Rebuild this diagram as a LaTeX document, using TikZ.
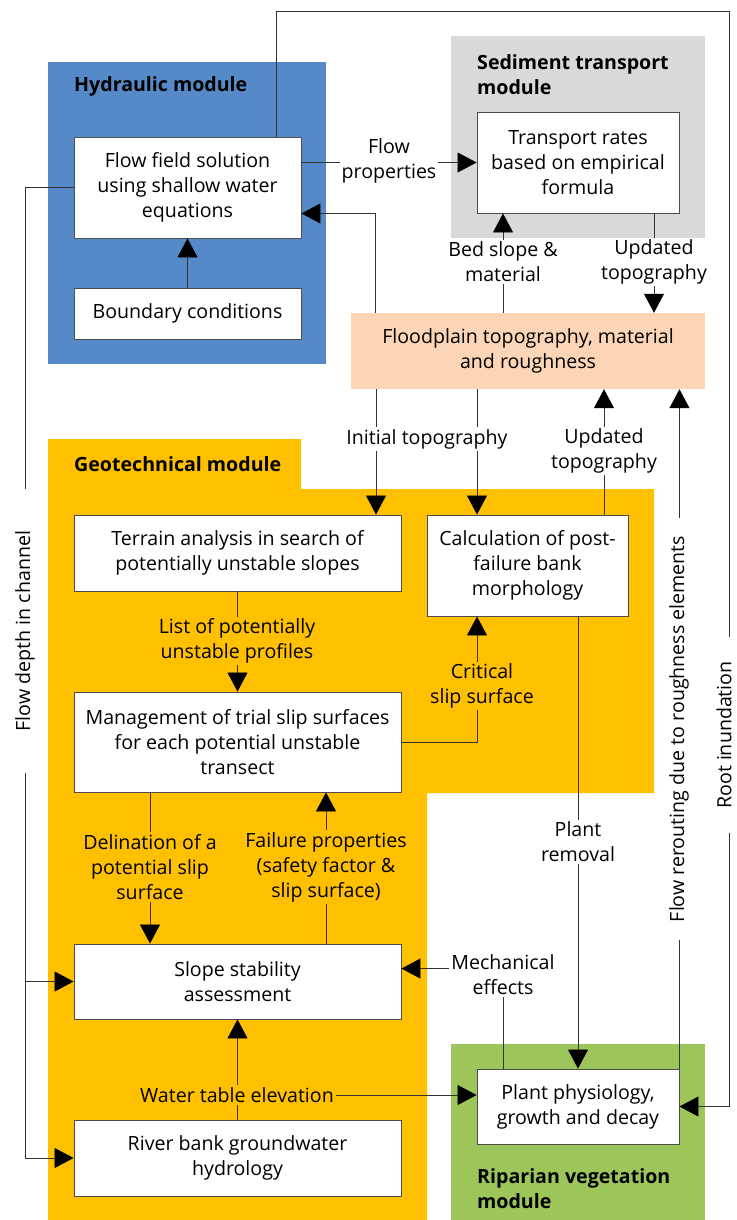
\documentclass[tikz,border=0pt]{standalone}
\usepackage{fontspec}
\setmainfont{Open Sans}
\usetikzlibrary{arrows.meta}

\definecolor{hydblue}{HTML}{5689C8}
\definecolor{sedgrey}{HTML}{D9D9D9}
\definecolor{topopeach}{HTML}{FBD5B5}
\definecolor{geoyellow}{HTML}{FFC000}
\definecolor{ripgreen}{HTML}{9DC65A}

\newcommand\diagfont{\fontsize{19.6}{25}\selectfont}

\tikzset{
	box/.style={draw=black!70, fill=white, line width=0.9pt, align=center, inner sep=0pt},
	lbl/.style={align=center, inner sep=2pt},
	modtitle/.style={font=\diagfont\bfseries, align=left, inner sep=0pt, anchor=west},
	conn/.style={draw=black!80, line width=0.8pt},
	arr/.style={conn, -{Triangle[length=19pt,width=20pt,color=black]}}
}

\begin{document}
\begin{tikzpicture}[x=1pt, y=-1pt, font=\diagfont]
		\useasboundingbox (0,0) rectangle (736,1220);
		
		\fill[hydblue] (48,62) rectangle (326,364);
		\fill[sedgrey] (451,36) rectangle (705,238);
		\fill[geoyellow] (48,439) -- (301,439) -- (301,489) -- (654,489) -- (654,793) -- (427,793) -- (427,1220) -- (48,1220) -- cycle;
		\fill[ripgreen] (451,1044) rectangle (705,1220);
		
		\node[modtitle] (hydtitle) at (74,86) {Hydraulic module};
		\node[modtitle] (sedtitle) at (477,75) {Sediment transport\\module};
		\node[modtitle] (geotitle) at (74,464) {Geotechnical module};
		\node[modtitle] (riptitle) at (477,1189) {Riparian vegetation\\module};
		
		\node[box, minimum width=227pt, minimum height=101pt] (flow) at (187.5,187.5) {Flow field solution\\using shallow water\\equations};
		\node[box, minimum width=227pt, minimum height=51pt] (bound) at (187.5,313.5) {Boundary conditions};
		\node[box, minimum width=202pt, minimum height=101pt] (transp) at (578,162.5) {Transport rates\\based on empirical\\formula};
		\node[fill=topopeach, align=center, inner sep=0pt, minimum width=354pt, minimum height=76pt] (topo) at (528,351) {Floodplain topography, material\\and roughness};
		\node[box, minimum width=327pt, minimum height=76pt] (terrain) at (237.5,553) {Terrain analysis in search of\\potentially unstable slopes};
		\node[box, minimum width=201pt, minimum height=101pt] (postfail) at (527.5,565.5) {Calculation of post-\\failure bank\\morphology};
		\node[box, minimum width=327pt, minimum height=100pt] (trial) at (237.5,742) {Management of trial slip surfaces\\for each potential unstable\\transect};
		\node[box, minimum width=327pt, minimum height=75pt] (stab) at (237.5,981.5) {Slope stability\\assessment};
		\node[box, minimum width=327pt, minimum height=76pt] (ground) at (237.5,1158) {River bank groundwater\\hydrology};
		\node[box, minimum width=202pt, minimum height=75pt] (plant) at (578,1106.5) {Plant physiology,\\growth and decay};
		
		\coordinate (depthx) at (25,0);
		\coordinate (roottop) at (729,11);
		\coordinate (bedx) at (503,0);
		\coordinate (updx) at (654,0);
		\coordinate (initx) at (376,0);
		\coordinate (postx) at (477,0);
		\coordinate (upd2x) at (604,0);
		\coordinate (delx) at (150,0);
		\coordinate (failx) at (326,0);
		
		\draw[arr] (bound.north) -- (flow.south);
		\draw[arr] (transp.west -| flow.east) -- (transp.west);
		\draw[arr] ([xshift=25pt]topo.north west) |- ([yshift=25pt]flow.south east);
		\draw[arr] (bedx |- topo.north) -- (bedx |- transp.south);
		\draw[arr] (updx |- transp.south) -- (updx |- topo.north);
		\draw[arr] ([xshift=-25pt]flow.north east) |- (roottop) |- (plant.east);
		\draw[arr] (flow.west) -- (flow.west -| depthx) -- (ground.west -| depthx) -- (ground.west);
		\draw[arr] (stab.west -| depthx) -- (stab.west);
		\draw[arr] (initx |- topo.south) -- (initx |- terrain.north);
		\draw[arr] (postx |- topo.south) -- (postx |- postfail.north);
		\draw[arr] (upd2x |- postfail.north) -- (upd2x |- topo.south);
		\draw[arr] (plant.north east) -- (plant.north east |- topo.south);
		\draw[arr] (terrain.south) -- (trial.north);
		\draw[arr] (trial.east) -| (postx |- postfail.south);
		\draw[arr] (delx |- trial.south) -- (delx |- stab.north);
		\draw[arr] (failx |- stab.north) -- (failx |- trial.south);
		\draw[arr] (ground.north) -- (stab.south);
		\draw[arr] (bedx |- plant.north) |- ([yshift=-25pt]stab.north east);
		\draw[arr] (plant.north |- postfail.south) -- (plant.north);
		
		\node[lbl, fill=white] (flowprop) at (389,161) {Flow\\properties};
		\node[lbl, fill=white] (bedslope) at (503,262) {Bed slope \&\\material};
		\node[lbl, fill=white] (updtopo) at (654,262) {Updated\\topography};
		\node[lbl, fill=white] (inittopo) at (427,439) {Initial topography};
		\node[lbl, fill=white] (updtopo2) at (604,451) {Updated\\topography};
		\node[lbl, fill=geoyellow] (listprof) at (237,641) {List of potentially\\unstable profiles};
		\node[lbl, fill=geoyellow] (critslip) at (482,686) {Critical\\slip surface};
		\node[lbl, fill=geoyellow] (delin) at (150,867) {Delination of a\\potential slip\\surface};
		\node[lbl, fill=geoyellow] (failprop) at (326,867) {Failure properties\\(safety factor \&\\slip surface)};
		\node[lbl, fill=geoyellow] (watertab) at (237,1095) {Water table elevation};
		\node[lbl, fill=white] (mech) at (503,975) {Mechanical\\effects};
		\node[lbl, fill=white] (removal) at (578,842) {Plant\\removal};
		\node[lbl, fill=white, rotate=90, inner xsep=42pt] (flowdepth) at (25,631) {Flow depth in channel};
		\node[lbl, fill=white, rotate=90, inner xsep=18pt] (reroute) at (679,729) {Flow rerouting due to roughness elements};
		\node[lbl, fill=white, rotate=90, inner xsep=24pt] (rootinund) at (724,735) {Root inundation};
		
		\draw[arr] (watertab.east) -- (watertab.east -| plant.west);
	\end{tikzpicture}
\end{document}
